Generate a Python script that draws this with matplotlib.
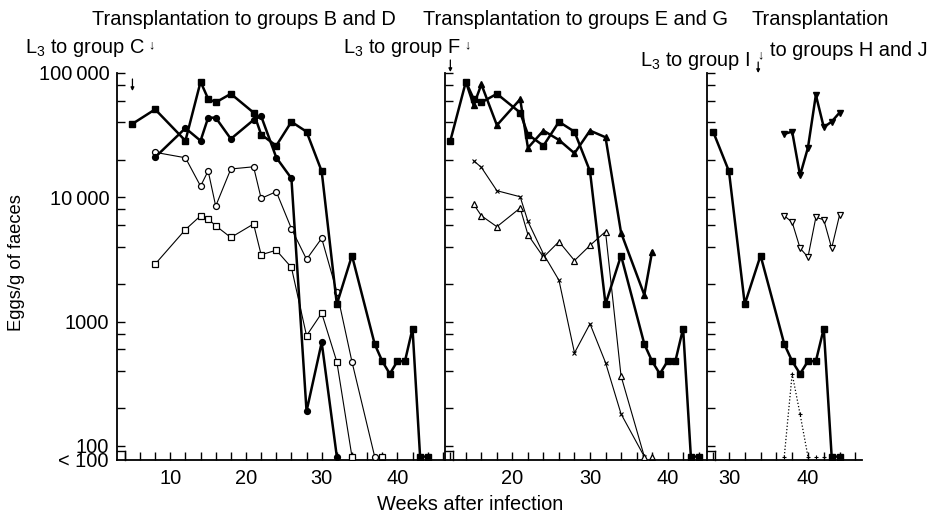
import matplotlib
matplotlib.use('Agg')
import matplotlib.pyplot as plt
from matplotlib.lines import Line2D
from matplotlib.ticker import FixedLocator
import numpy as np

plt.rcParams['font.family'] = ['Liberation Sans', 'DejaVu Sans']
plt.rcParams['mathtext.default'] = 'regular'

LT = 82  # plotting level used for "< 100"

# ---------------- data (weeks after infection, eggs/g of faeces) ----------------
# reference series (filled squares), repeated in all three panels
ref_weeks = [5, 8, 12, 14, 15, 16, 18, 21, 22, 24, 26, 28, 30, 32, 34, 37, 38, 39, 40, 41, 42, 43, 44]
ref_eggs = [39000, 51000, 28500, 85000, 62000, 58000, 68000, 48000, 32000, 26000, 40500, 33700,
            16200, 1380, 3400, 660, 480, 380, 480, 480, 880, LT, LT]
ref_start = [5, 12, 28]  # first week shown in panels 1, 2, 3

# panel 1
p1_fcirc_weeks = [8, 12, 14, 15, 16, 18, 21, 22, 24, 26, 28, 30, 32]
p1_fcirc_eggs = [21000, 36000, 28500, 43700, 43700, 29500, 41900, 45000, 20900, 14200, 190, 680, LT]
p1_fcirc_below = [34, 38]
p1_ocirc_weeks = [8, 12, 14, 15, 16, 18, 21, 22, 24, 26, 28, 30, 32, 34, 37]
p1_ocirc_eggs = [23000, 20800, 12300, 16300, 8500, 16900, 17600, 9800, 11100, 5600, 3170, 4680, 1740, 475, LT]
p1_osq_weeks = [8, 12, 14, 15, 16, 18, 21, 22, 24, 26, 28, 30, 32, 34]
p1_osq_eggs = [2900, 5500, 7100, 6700, 5900, 4750, 6100, 3450, 3750, 2730, 770, 1170, 475, LT]
p1_osq_below = [38]

# panel 2
p2_ftri_weeks = [14, 15, 16, 18, 21, 22, 24, 26, 28, 30, 32, 34, 37, 38]
p2_ftri_eggs = [85000, 55000, 81000, 38000, 61500, 25000, 34400, 28900, 22600, 34400, 30400, 5200, 1640, 3650]
p2_cross_weeks = [15, 16, 18, 21, 22, 24, 26, 28, 30, 32, 34, 37]
p2_cross_eggs = [19700, 17400, 11300, 10100, 6400, 3500, 2150, 560, 960, 468, 181, LT]
p2_otri_weeks = [15, 16, 18, 21, 22, 24, 26, 28, 30, 32, 34, 37]
p2_otri_eggs = [8800, 7100, 5800, 8200, 5000, 3300, 4400, 3100, 4100, 5300, 365, LT]
p2_otri_below = [38]

# panel 3
p3_finv_weeks = [37, 38, 39, 40, 41, 42, 43, 44]
p3_finv_eggs = [32300, 33800, 15000, 25100, 66600, 36600, 40600, 48000]
p3_oinv_weeks = [37, 38, 39, 40, 41, 42, 43, 44]
p3_oinv_eggs = [7100, 6300, 3900, 3300, 6900, 6600, 3900, 7200]
p3_plus_weeks = [37, 38, 39, 40]
p3_plus_eggs = [LT, 380, 180, LT]
p3_plus_below = [41, 42, 43, 44]

# axis text
ytick_vals = [100, 1000, 10000, 100000]
ytick_labels = ['100', '1000', '10\u2009000', '100\u2009000']
event_weeks = [5, 12, 33.7]  # L3 given to groups C, F, I

# ---------------- layout ----------------
W, H = 942, 523
fig = plt.figure(figsize=(W / 100, H / 100), dpi=100)
TOP_PX, BOT_PX = 70, 460
LOG_TOP = 5 + 3 / 124.3
LOG_BOT = 5 - 387 / 124.3
panel_px = [(117, 445), (445, 707), (707, 862)]
panel_xlim = [(2.96, 46.29), (11.31, 45.08), (27.22, 46.84)]
FS = 14.4

thick = dict(color='k', lw=1.8, ms=4.2, zorder=4)
thin = dict(color='k', lw=0.8, zorder=3)


def open_m(marker, ms=4.3):
    return dict(marker=marker, ms=ms, mfc='white', mec='k', mew=0.9)


axes = []
for i, ((l, r), xl) in enumerate(zip(panel_px, panel_xlim)):
    ax = fig.add_axes([l / W, 1 - BOT_PX / H, (r - l) / W, (BOT_PX - TOP_PX) / H])
    ax.set_yscale('log')
    ax.set_ylim(10 ** LOG_BOT, 10 ** LOG_TOP)
    ax.set_xlim(*xl)
    ax.patch.set_alpha(0)
    for s in ['top', 'right']:
        ax.spines[s].set_visible(False)
    ax.spines['left'].set_linewidth(1.3)
    ax.spines['bottom'].set_linewidth(1.3)
    ax.spines['left'].set_bounds(10 ** LOG_BOT, 1e5)
    ax.yaxis.set_major_locator(FixedLocator(ytick_vals))
    ax.yaxis.set_minor_locator(FixedLocator([m * 10 ** k for k in (2, 3, 4) for m in (2, 4, 6, 8)]))
    ax.tick_params(axis='y', which='both', direction='in', length=5.5, width=1.0,
                   labelsize=FS, pad=5.5, labelleft=(i == 0))
    if i == 0:
        ax.set_yticklabels(ytick_labels)
        ax.yaxis.set_minor_formatter(plt.NullFormatter())
        ax.annotate('< 100', xy=(0, LT), xycoords=ax.get_yaxis_transform(),
                    xytext=(-6.3, -3.5), textcoords='offset points', ha='right', va='center', fontsize=FS)
    wk = np.arange(np.ceil(xl[0] / 2) * 2, xl[1], 2).astype(int)
    ax.set_xticks(wk)
    ax.set_xticklabels([str(w) if w % 10 == 0 else '' for w in wk])
    ax.tick_params(axis='x', direction='in', length=5.5, width=1.0, labelsize=FS, pad=6.5)
    # reference series
    rw = [w for w in ref_weeks if w >= ref_start[i]]
    re = [e for w, e in zip(ref_weeks, ref_eggs) if w >= ref_start[i]]
    ax.plot(rw, re, marker='s', **thick)
    axes.append(ax)

ax1, ax2, ax3 = axes
# panel 1
ax1.plot(p1_fcirc_weeks, p1_fcirc_eggs, marker='o', **thick)
ax1.plot(p1_fcirc_below, [LT] * len(p1_fcirc_below), ls='none', marker='o', color='k', ms=4.2)
ax1.plot(p1_ocirc_weeks, p1_ocirc_eggs, **thin, **open_m('o'))
ax1.plot(p1_osq_weeks, p1_osq_eggs, **thin, **open_m('s'))
ax1.plot(p1_osq_below, [LT] * len(p1_osq_below), ls='none', **open_m('s'))
# panel 2
ax2.plot(p2_ftri_weeks, p2_ftri_eggs, marker='^', **thick)
ax2.plot(p2_cross_weeks, p2_cross_eggs, marker='x', ms=3.5, mew=0.8, **thin)
ax2.plot(p2_otri_weeks, p2_otri_eggs, **thin, **open_m('^', 4.8))
ax2.plot(p2_otri_below, [LT] * len(p2_otri_below), ls='none', **open_m('^', 4.8))
# panel 3
ax3.plot(p3_finv_weeks, p3_finv_eggs, marker='v', **thick)
ax3.plot(p3_oinv_weeks, p3_oinv_eggs, **thin, **open_m('v', 4.8))
ax3.plot(p3_plus_weeks, p3_plus_eggs, ls=':', lw=0.9, color='k', marker='+', ms=3.5, mew=0.8)
ax3.plot(p3_plus_below, [LT] * len(p3_plus_below), ls='none', color='k', marker='+', ms=3.5, mew=0.8)

# event arrows (L3 administration)
ev_px = [(79, 91), (60, 72), (62, 73)]
for ax, w, (y0, y1) in zip(axes, event_weeks, ev_px):
    ax.annotate('', xy=(w, H - y1), xycoords=('data', 'figure pixels'),
                xytext=(w, H - y0), textcoords=('data', 'figure pixels'),
                arrowprops=dict(arrowstyle='-|>', lw=0.9, color='k', mutation_scale=5,
                                shrinkA=0, shrinkB=0), annotation_clip=False)

# axis-break brackets at the foot of each spine
for (l, r) in panel_px:
    fig.add_artist(Line2D([l / W, (l + 8) / W], [1 - 451 / H, 1 - 451 / H], color='k', lw=1.0))
    fig.add_artist(Line2D([(l + 8) / W, (l + 8) / W], [1 - 451 / H, 1 - 460 / H], color='k', lw=1.0))


def ftext(x, y, s, **kw):
    kw.setdefault('fontsize', FS)
    fig.text(x / W, 1 - y / H, s, **kw)


ftext(92, 25, 'Transplantation to groups B and D', va='baseline')
ftext(423, 25, 'Transplantation to groups E and G', va='baseline')
ftext(752, 25, 'Transplantation', va='baseline')
ftext(25, 53, 'L$_3$ to group C', va='baseline')
ftext(151, 45, '\u2193', fontsize=9, ha='center', va='center')
ftext(343, 53, 'L$_3$ to group F', va='baseline')
ftext(467, 45, '\u2193', fontsize=9, ha='center', va='center')
ftext(640, 66, 'L$_3$ to group I', va='baseline')
ftext(760, 55, '\u2193', fontsize=9, ha='center', va='center')
ftext(770, 56, 'to groups H and J', va='baseline')

ftext(17, 263, 'Eggs/g of faeces', rotation=90, ha='center', va='center', fontsize=13.2)
ftext(470, 505, 'Weeks after infection', ha='center', va='center')

fig.savefig('out.png', dpi=100, facecolor='white')
